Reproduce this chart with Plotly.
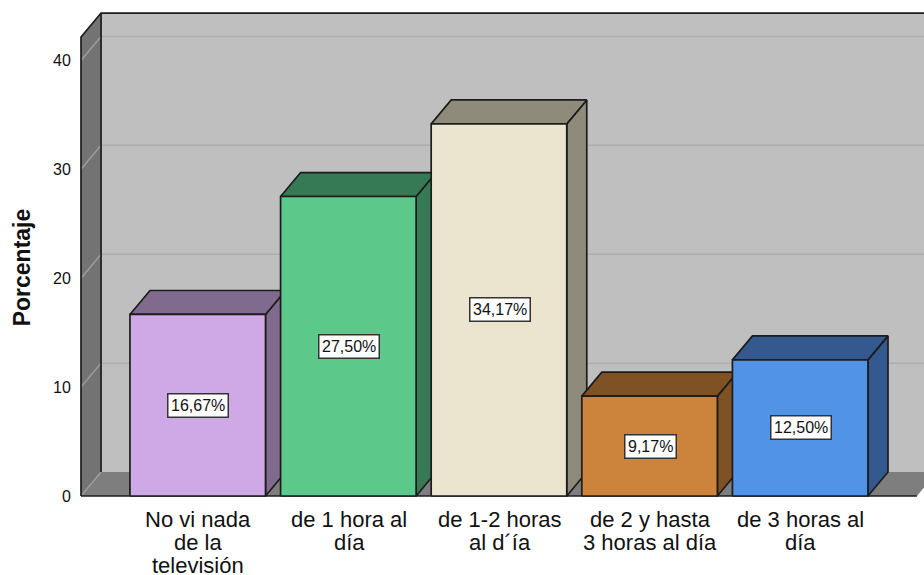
"""
3D style bar chart: hours of television per day (percentages)
"""

import plotly.graph_objects as go

# Data
categories = [
    'No vi nada<br>de la<br>televisión',
    'de 1 hora al<br>día',
    'de 1-2 horas<br>al d´ía',
    'de 2 y hasta<br>3 horas al día',
    'de 3 horas al<br>día',
]
percentages = [16.67, 27.50, 34.17, 9.17, 12.50]
y_ticks = [0, 10, 20, 30, 40]

# Styles
front_colors = ['#CFA9E6', '#5CC98A', '#EBE5D0', '#CC843C', '#5193E6']
side_colors = ['#806B8F', '#357A55', '#8F8B7B', '#7F5226', '#33598E']
EDGE = '#1C1C1C'

# Geometry in axis units (fake depth of the box)
DEPTH_X = 0.133
DEPTH_Y = 2.2
BAR_LEFT = 0.455
BAR_RIGHT = 0.445
WALL_LEFT = -0.78
WALL_RIGHT = 4.77
WALL_TOP = 42.15


def add_polygon(fig, xs, ys, fill, line_color=EDGE, line_width=1.7):
    fig.add_trace(go.Scatter(
        x=xs + xs[:1],
        y=ys + ys[:1],
        mode='lines',
        fill='toself',
        fillcolor=fill,
        line=dict(color=line_color, width=line_width),
        hoverinfo='skip',
        showlegend=False,
    ))


def add_line(fig, xs, ys, color, width=1.5):
    fig.add_trace(go.Scatter(
        x=xs, y=ys, mode='lines',
        line=dict(color=color, width=width),
        hoverinfo='skip',
        showlegend=False,
    ))


fig = go.Figure()

back_x = WALL_LEFT + DEPTH_X
back_right = WALL_RIGHT + DEPTH_X

# Back wall
add_polygon(fig, [back_x, back_right, back_right, back_x],
            [DEPTH_Y, DEPTH_Y, WALL_TOP + DEPTH_Y, WALL_TOP + DEPTH_Y],
            '#BFBFBF', line_width=0)

# Floor
add_polygon(fig, [WALL_LEFT, WALL_RIGHT, back_right, back_x],
            [0, 0, DEPTH_Y, DEPTH_Y], '#7E7E7E', line_color='#7E7E7E', line_width=0)

# Left wall
add_polygon(fig, [WALL_LEFT, back_x, back_x, WALL_LEFT],
            [0, DEPTH_Y, WALL_TOP + DEPTH_Y, WALL_TOP],
            '#737373', line_width=0)

# Gridlines on both walls
for tick in y_ticks[1:]:
    add_line(fig, [back_x, back_right], [tick + DEPTH_Y, tick + DEPTH_Y], '#ADADAD')
    add_line(fig, [WALL_LEFT, back_x], [tick, tick + DEPTH_Y], '#9C9C9C')
add_line(fig, [WALL_LEFT, back_x], [0, DEPTH_Y], '#9C9C9C')

# Wall outlines
add_line(fig, [WALL_LEFT, WALL_LEFT, back_x, back_right],
         [0, WALL_TOP, WALL_TOP + DEPTH_Y, WALL_TOP + DEPTH_Y], EDGE, 1.7)
add_line(fig, [back_x, back_x], [DEPTH_Y, WALL_TOP + DEPTH_Y], EDGE, 1.7)
add_line(fig, [WALL_LEFT, WALL_RIGHT], [0, 0], EDGE, 1.7)

# Bars, drawn left to right so each front covers the previous side face
for i, value in enumerate(percentages):
    left, right = i - BAR_LEFT, i + BAR_RIGHT
    add_polygon(fig, [right, right + DEPTH_X, right + DEPTH_X, right],
                [0, DEPTH_Y, value + DEPTH_Y, value], side_colors[i])
    add_polygon(fig, [left, right, right + DEPTH_X, left + DEPTH_X],
                [value, value, value + DEPTH_Y, value + DEPTH_Y], side_colors[i])
    add_polygon(fig, [left, right, right, left],
                [0, 0, value, value], front_colors[i])
    fig.add_annotation(
        x=i, y=value / 2,
        text=f'{value:.2f}%'.replace('.', ','),
        showarrow=False,
        font=dict(family='Liberation Sans', size=16, color='#111111'),
        bgcolor='white',
        bordercolor='#333333',
        borderwidth=1.5,
        borderpad=2.5,
    )

# Category labels, one annotation per line because the line spacing is tighter
# than what tick labels allow
for i, label in enumerate(categories):
    for k, text_line in enumerate(label.split('<br>')):
        fig.add_annotation(
            x=i, y=0, yref='paper',
            yshift=-19 - 23 * k,
            text=text_line,
            showarrow=False,
            yanchor='middle',
            font=dict(family='Liberation Sans', size=22, color='#111111'),
        )

# Value axis title
fig.add_annotation(
    x=-0.0662, xref='paper', xanchor='center',
    y=21, yref='y', yanchor='middle',
    text='<b>Porcentaje</b>',
    textangle=-90,
    showarrow=False,
    font=dict(family='Liberation Sans', size=23, color='#111111'),
)

fig.update_layout(
    width=924,
    height=575,
    autosize=False,
    margin=dict(l=78, r=0, t=10, b=75),
    paper_bgcolor='white',
    plot_bgcolor='white',
    showlegend=False,
    font=dict(family='Liberation Sans', color='#111111'),
)

fig.update_xaxes(
    range=[-0.800, 4.817],
    showticklabels=False,
    ticks='',
    showgrid=False,
    zeroline=False,
    showline=False,
    automargin=False,
)

fig.update_yaxes(
    range=[-4 / 10.89, 486 / 10.89],
    tickmode='array',
    tickvals=y_ticks,
    tickfont=dict(size=16),
    ticks='outside',
    ticklen=3,
    tickcolor='rgba(0,0,0,0)',
    showgrid=False,
    zeroline=False,
    showline=False,
    automargin=False,
)

fig.write_html(
    'out.html',
    config={'displayModeBar': False},
    post_script="document.body.style.margin='0'",
)
